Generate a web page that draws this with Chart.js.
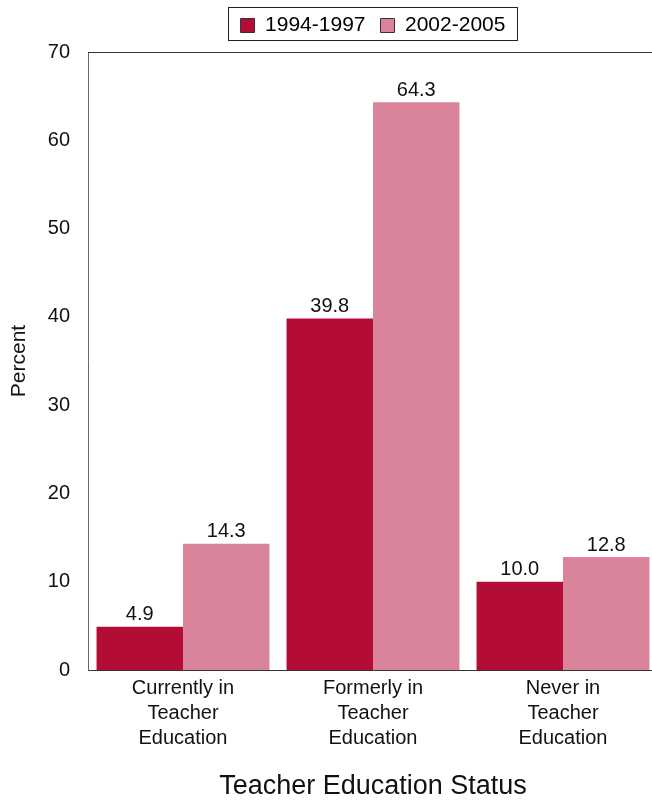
<!DOCTYPE html>
<html>
<head>
<meta charset="utf-8">
<script src="https://cdn.jsdelivr.net/npm/chart.js@4"></script>
<style>
  html, body { margin: 0; padding: 0; background: #fff; overflow: hidden; }
  #wrap { width: 658px; height: 801px; position: relative; }
</style>
</head>
<body>
<div id="wrap"><canvas id="myChart"></canvas></div>
<script>
'use strict';

// chart data
const categories = [
  ['Currently in', 'Teacher', 'Education'],
  ['Formerly in', 'Teacher', 'Education'],
  ['Never in', 'Teacher', 'Education']
];
const seriesNames = ['1994-1997', '2002-2005'];
const values9497 = [4.9, 39.8, 10.0];
const values0205 = [14.3, 64.3, 12.8];
const yTicks = [0, 10, 20, 30, 40, 50, 60, 70];

const FONT = '"Liberation Sans", Arial, sans-serif';
const darkRed = '#b30d36';
const pink = '#d9849a';

// values over the bars
const barLabels = {
  id: 'barLabels',
  afterDatasetsDraw(chart) {
    const c = chart.ctx;
    c.save();
    c.font = '20px ' + FONT;
    c.fillStyle = '#111';
    c.textAlign = 'center';
    c.textBaseline = 'bottom';
    chart.data.datasets.forEach((ds, i) => {
      chart.getDatasetMeta(i).data.forEach((bar, j) => {
        c.fillText(ds.data[j].toFixed(1), bar.x, bar.y - 2);
      });
    });
    c.restore();
  }
};

// make the legend band a bit taller so the plot starts lower
const legendSpace = {
  id: 'legendSpace',
  beforeLayout(chart) {
    const lg = chart.legend;
    if (lg && !lg._tallFit) {
      const fit = lg.fit.bind(lg);
      lg.fit = function () {
        fit();
        this.height += 6;
      };
      lg._tallFit = true;
    }
  }
};

// box round the legend + top line of the plot
const frame = {
  id: 'frame',
  afterDraw(chart) {
    const c = chart.ctx;
    const boxes = chart.legend.legendHitBoxes;
    c.save();
    c.strokeStyle = '#222';
    c.lineWidth = 1;
    if (boxes && boxes.length) {
      const first = boxes[0];
      const last = boxes[boxes.length - 1];
      const l = Math.round(first.left - 13) + 0.5;
      const r = Math.round(last.left + last.width + 12) + 0.5;
      c.strokeRect(l, 7.5, r - l, 33);
    }
    const a = chart.chartArea;
    c.strokeStyle = '#333';
    c.beginPath();
    c.moveTo(a.left, Math.round(a.top) + 0.5);
    c.lineTo(a.right, Math.round(a.top) + 0.5);
    c.stroke();
    c.restore();
  }
};

const ctx = document.getElementById('myChart').getContext('2d');

new Chart(ctx, {
  type: 'bar',
  data: {
    labels: categories,
    datasets: [{
      label: seriesNames[0],
      data: values9497,
      backgroundColor: darkRed,
      barPercentage: 1,
      categoryPercentage: 0.91
    }, {
      label: seriesNames[1],
      data: values0205,
      backgroundColor: pink,
      barPercentage: 1,
      categoryPercentage: 0.91
    }]
  },
  options: {
    responsive: true,
    maintainAspectRatio: false,
    animation: false,
    layout: { padding: 0 },
    plugins: {
      tooltip: { enabled: false },
      legend: {
        position: 'top',
        fullSize: false,
        labels: {
          font: { family: FONT, size: 21 },
          color: '#111',
          boxWidth: 14,
          boxHeight: 14,
          padding: 15,
          generateLabels(chart) {
            return chart.data.datasets.map((ds, i) => ({
              text: ds.label,
              fillStyle: ds.backgroundColor,
              strokeStyle: '#333',
              lineWidth: 1,
              datasetIndex: i
            }));
          }
        }
      }
    },
    scales: {
      x: {
        afterFit(axis) { axis.height = 131; },
        grid: { display: false, drawTicks: false },
        border: { color: '#333' },
        ticks: {
          font: { family: FONT, size: 20, lineHeight: 1.25 },
          color: '#111',
          padding: 6,
          maxRotation: 0
        },
        title: {
          display: true,
          text: 'Teacher Education Status',
          font: { family: FONT, size: 27, lineHeight: 1.1 },
          color: '#111',
          padding: { top: 0, bottom: 0 }
        }
      },
      y: {
        min: 0,
        max: 70,
        afterFit(axis) { axis.width = 88; },
        afterBuildTicks(axis) {
          axis.ticks = yTicks.map(v => ({ value: v }));
        },
        grid: { display: false, drawTicks: false },
        border: { color: '#666' },
        ticks: {
          font: { family: FONT, size: 20 },
          color: '#111',
          padding: 18
        },
        title: {
          display: true,
          text: 'Percent',
          font: { family: FONT, size: 21, lineHeight: 1.2 },
          color: '#111',
          padding: { top: 7, bottom: 0 }
        }
      }
    }
  },
  plugins: [legendSpace, barLabels, frame]
});
</script>
</body>
</html>
